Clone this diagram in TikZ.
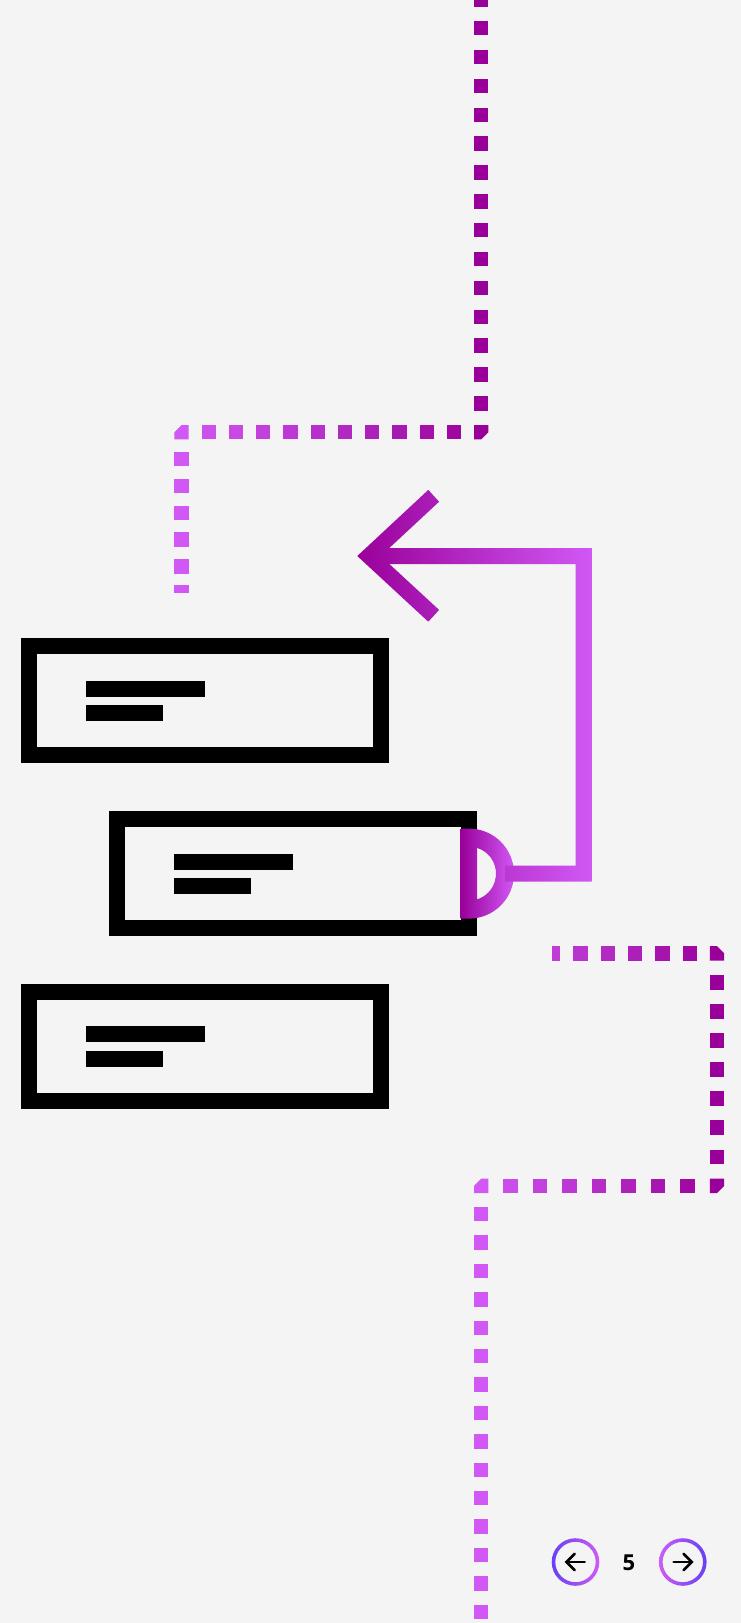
\documentclass[tikz,border=0pt]{standalone}
\usepackage{fontspec}
\setmainfont{Open Sans}
\usetikzlibrary{calc}
\definecolor{bg}{HTML}{F4F4F4}
\definecolor{pdark}{RGB}{153,0,153}
\definecolor{plight}{RGB}{209,88,245}
\definecolor{nblue}{RGB}{104,64,245}
\definecolor{npink}{RGB}{205,92,245}
% one dash square: x, y, percent of light colour
\newcommand\dsq[3]{\fill[plight!#3!pdark] ({#1-7.2},{#2-7.2}) rectangle ({#1+7.2},{#2+7.2});}
% bevelled corner dash: cx, cy, sx, sy (outer corner direction), colour
\newcommand\dcorner[5]{\fill[#5] ({#1-(#3)*7.2},{#2-(#4)*7.2}) -- ({#1+(#3)*7.2},{#2-(#4)*7.2}) -- ({#1+(#3)*7.2},#2) -- (#1,{#2+(#4)*7.2}) -- ({#1-(#3)*7.2},{#2+(#4)*7.2}) -- cycle;}
\tikzset{
  card/.style={draw=black, line width=16pt, inner sep=0pt, outer sep=0pt,
    minimum width=352pt, minimum height=109pt},
  bar/.style={fill=black, inner sep=0pt, outer sep=0pt, anchor=north west, minimum height=16pt},
  navring/.style={even odd rule},
  navarrow/.style={draw=black, line width=2.6pt, line cap=round, line join=miter},
}
\begin{document}
\begin{tikzpicture}[x=1pt,y=-1pt]
\fill[bg] (0,0) rectangle (741,1623);
\useasboundingbox (0,0) rectangle (741,1623);
\clip (0,0) rectangle (741,1623);

% ---------- top dotted path ----------
\foreach \k in {1,...,15}{\pgfmathsetmacro\yy{432.2-\k*28.86}\dsq{481.2}{\yy}{0}}
\dcorner{481.2}{432.2}{1}{1}{pdark}
\foreach \k in {1,...,10}{\pgfmathsetmacro\xx{481.2-\k*27.25}\pgfmathsetmacro\pp{\k/11*100}\dsq{\xx}{432.2}{\pp}}
\dcorner{181.5}{432.2}{-1}{-1}{plight}
\foreach \k in {1,...,5}{\pgfmathsetmacro\yy{432.2+\k*26.85}\dsq{181.5}{\yy}{100}}
\fill[plight] (174.3,585.4) rectangle (188.7,593);

% ---------- middle / bottom dotted path ----------
\fill[plight!68!pdark] (552,946.1) rectangle (560.4,960.5);
\foreach \k in {1,...,5}{\pgfmathsetmacro\xx{717-\k*27.3}\pgfmathsetmacro\pp{(717-\xx)/235.8*100}\dsq{\xx}{953.3}{\pp}}
\dcorner{717}{953.3}{1}{-1}{pdark}
\foreach \k in {1,...,7}{\pgfmathsetmacro\yy{953.3+\k*29.06}\dsq{717}{\yy}{0}}
\dcorner{717}{1185.8}{1}{1}{pdark}
\foreach \k in {1,...,7}{\pgfmathsetmacro\xx{717-\k*29.48}\pgfmathsetmacro\pp{\k/8*100}\dsq{\xx}{1185.8}{\pp}}
\dcorner{481.2}{1185.8}{-1}{-1}{plight}
\foreach \k in {1,...,15}{\pgfmathsetmacro\yy{1185.8+\k*28.4}\dsq{481.2}{\yy}{100}}

% ---------- cards ----------
\node[card] (b1) at (205,700.8) {};
\node[card] (b2) at (293,873.6) {};
\node[card] (b3) at (205,1046.5) {};
\foreach \b in {b1,b2,b3}{
  \node[bar, minimum width=119.6pt] (\b-l1) at ($(\b.north west)+(56.7,34.4)$) {};
  \node[bar, minimum width=77.6pt] (\b-l2) at ($(\b.north west)+(56.7,58.7)$) {};
}

% ---------- D-shaped port on card 2 ----------
\coordinate (port) at (b2.east);
\begin{scope}[shift={(port)}]
  \shade[even odd rule, left color=pdark, right color=plight]
    (-8.3,-45) -- (0,-45) arc[start angle=-90, end angle=90, radius=45] -- (-8.3,45) -- cycle
    (8,-25.8) arc[start angle=-72.8, end angle=72.8, radius=27] -- cycle;
\end{scope}

% ---------- return arrow (gradient stroke as outlines) ----------
\coordinate (tip) at (369,556);
\coordinate (bend) at (583.7,556);
\begin{scope}
  \clip (357.3,556) -- (428.3,489.9) -- (439.1,501.7) -- (380.7,556) -- (439.1,609.9) -- (428.3,621.7) -- cycle;
  \shade[left color=pdark, right color=plight] (357,480) rectangle (592,890);
\end{scope}
\begin{scope}
  \clip (375,548) -- (591.7,548) -- (591.7,881.6) -- ($(port)+(36,8)$) -- ($(port)+(36,-8)$) -- (575.7,865.6) -- (575.7,564) -- (375,564) -- cycle;
  \shade[left color=pdark, right color=plight] (357,480) rectangle (592,890);
\end{scope}

% ---------- pager ----------
\coordinate (prev) at (575.5,1562);
\coordinate (next) at (682.8,1562);
\shade[navring, left color=nblue, right color=npink] (prev) circle[radius=23.8] (prev) circle[radius=20.2];
\shade[navring, left color=npink, right color=nblue] (next) circle[radius=23.8] (next) circle[radius=20.2];
\draw[navarrow] ($(prev)+(9.2,0)$) -- ($(prev)+(-9,0)$);
\draw[navarrow] ($(prev)+(-0.8,-8.2)$) -- ($(prev)+(-9,0)$) -- ($(prev)+(-0.8,8.2)$);
\draw[navarrow] ($(next)+(-9.2,0)$) -- ($(next)+(9,0)$);
\draw[navarrow] ($(next)+(0.8,-8.2)$) -- ($(next)+(9,0)$) -- ($(next)+(0.8,8.2)$);
\node[font=\fontsize{22}{22}\selectfont\bfseries, inner sep=0pt] (page) at (629,1563) {5};
\end{tikzpicture}
\end{document}
